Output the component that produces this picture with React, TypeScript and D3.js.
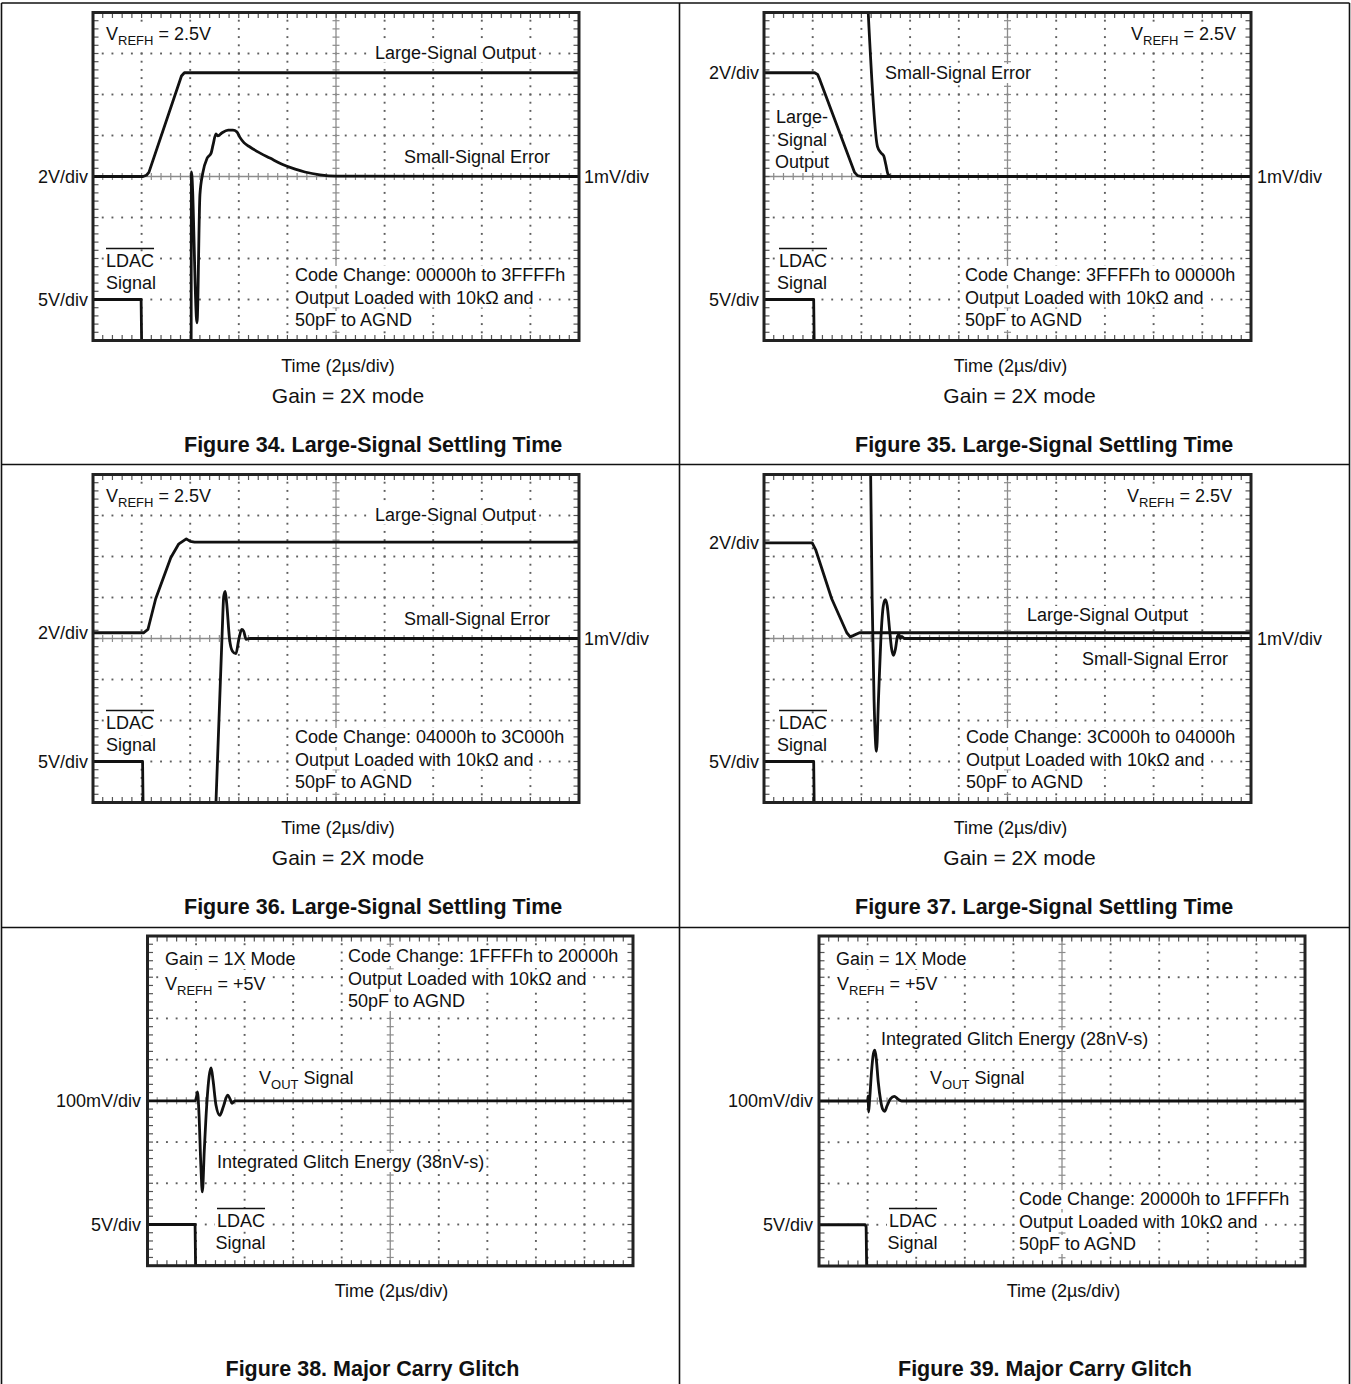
import React, { useEffect, useRef } from "react";
import * as d3 from "d3";

type Pt = [number, number];

// ---------- DATA ----------
// time in µs (2 µs/div, 10 div), amplitude in scope divisions (center = 0, ±4 div)
const TIME_DOMAIN: [number, number] = [0, 20];
const DIV_DOMAIN: [number, number] = [-4, 4];

const fig34Large: Pt[] = [[0, 0], [2.06, 0], [2.2, 0.03], [2.3, 0.1], [3.64, 2.45], [3.76, 2.53], [20, 2.53]];
const fig34Error: Pt[] = [[4.04, -4], [4.05, 0.11], [4.28, -3.57], [4.4, -0.45], [4.52, 0.09], [4.7, 0.45], [4.86, 0.57], [4.94, 0.77], [5.06, 1.04], [5.14, 0.99], [5.3, 1.06], [5.56, 1.13], [5.76, 1.13], [5.92, 1.09], [6.04, 0.96], [6.22, 0.82], [6.46, 0.72], [6.88, 0.57], [7.28, 0.45], [7.78, 0.3], [8.32, 0.18], [8.72, 0.11], [9.34, 0.04], [10, 0.01], [20, 0]];
const fig34Ldac: Pt[] = [[0, -3], [1.98, -3], [2.0, -4], [20, -4]];

const fig35Large: Pt[] = [[0, 2.53], [2.08, 2.53], [2.2, 2.49], [2.3, 2.35], [3.72, 0.1], [3.84, 0.02], [4.0, 0], [20, 0]];
const fig35Error: Pt[] = [[4.28, 4], [4.66, 0.73], [4.8, 0.58], [4.92, 0.5], [5.0, 0.3], [5.1, 0.05], [5.24, 0], [20, 0]];
const fig35Ldac: Pt[] = [[0, -3], [2.04, -3], [2.06, -4], [20, -4]];

const fig36Large: Pt[] = [[0, 0.14], [2.08, 0.14], [2.26, 0.22], [2.58, 0.97], [3.2, 1.97], [3.52, 2.3], [3.84, 2.43], [4.0, 2.37], [4.18, 2.35], [20, 2.35]];
const fig36Error: Pt[] = [[5.06, -4], [5.32, 0.22], [5.38, 1.03], [5.44, 1.15], [5.5, 0.87], [5.62, -0.02], [5.74, -0.31], [5.88, -0.37], [6.0, -0.02], [6.12, 0.22], [6.2, 0.18], [6.3, -0.02], [6.46, 0], [20, 0]];
const fig36Ldac: Pt[] = [[0, -3], [2.04, -3], [2.06, -4], [20, -4]];

const fig37Large: Pt[] = [[0, 2.33], [1.98, 2.33], [2.12, 2.17], [2.78, 0.97], [3.4, 0.14], [3.54, 0.04], [3.66, 0.07], [3.92, 0.14], [20, 0.14]];
const fig37Error: Pt[] = [[4.38, 4], [4.44, 1.0], [4.52, -1.5], [4.62, -2.75], [4.7, -1.5], [4.8, 0], [4.9, 0.8], [4.98, 0.95], [5.06, 0.8], [5.16, 0.2], [5.24, -0.25], [5.32, -0.41], [5.4, -0.25], [5.48, 0.05], [5.54, 0.1], [5.6, 0], [5.66, 0.05], [5.76, 0], [20, 0]];
const fig37Ldac: Pt[] = [[0, -3], [2.04, -3], [2.06, -4], [20, -4]];

const fig38Vout: Pt[] = [[0, 0], [1.96, 0], [2.02, 0.1], [2.06, 0.22], [2.12, -0.3], [2.2, -1.6], [2.26, -2.21], [2.34, -1.2], [2.44, -0.1], [2.54, 0.6], [2.62, 0.8], [2.7, 0.5], [2.82, -0.1], [2.98, -0.35], [3.12, -0.15], [3.3, 0.14], [3.42, 0.02], [3.48, -0.06], [3.6, 0], [20, 0]];
const fig38Ldac: Pt[] = [[0, -3], [1.96, -3], [1.98, -4], [20, -4]];

const fig39Vout: Pt[] = [[0, 0], [2.0, 0], [2.02, 0.12], [2.04, -0.27], [2.08, 0], [2.16, 0.7], [2.24, 1.15], [2.3, 1.23], [2.36, 1.0], [2.44, 0.45], [2.54, 0], [2.62, -0.2], [2.7, -0.25], [2.8, -0.12], [2.94, 0.05], [3.1, 0.11], [3.24, 0.05], [3.4, 0], [20, 0]];
const fig39Ldac: Pt[] = [[0, -3], [1.9, -3], [1.94, -3.05], [1.96, -4], [20, -4]];

// ---------- TEXT ----------
const settlingScaleLabels = ["2V/div", "1mV/div", "5V/div"];
const glitchScaleLabels = ["100mV/div", "5V/div"];
const timeLabel = "Time (2µs/div)";
const gain2x = "Gain = 2X mode";
const gain1x = "Gain = 1X Mode";
const loadNotes = ["Output Loaded with 10kΩ and", "50pF to AGND"];
const codeChanges = [
  "Code Change: 00000h to 3FFFFh",
  "Code Change: 3FFFFh to 00000h",
  "Code Change: 04000h to 3C000h",
  "Code Change: 3C000h to 04000h",
  "Code Change: 1FFFFh to 20000h",
  "Code Change: 20000h to 1FFFFh",
];
const titles = [
  "Figure 34. Large-Signal Settling Time",
  "Figure 35. Large-Signal Settling Time",
  "Figure 36. Large-Signal Settling Time",
  "Figure 37. Large-Signal Settling Time",
  "Figure 38. Major Carry Glitch",
  "Figure 39. Major Carry Glitch",
];

const FONT = "'Liberation Sans', Arial, Helvetica, sans-serif";
const W = 1351;
const H = 1384;

interface Seg { t: string; sub?: boolean }
interface Label {
  parts: string | Seg[];
  x: number; y: number;
  anchor?: "start" | "middle" | "end";
  size?: number; bold?: boolean; bg?: boolean; overline?: boolean;
}
interface Trace { data: Pt[]; smooth?: boolean }
interface Panel { box: [number, number, number, number]; traces: Trace[]; labels: Label[] }

const vref = (v: string): Seg[] => [{ t: "V" }, { t: "REFH", sub: true }, { t: " = " + v }];
const vout: Seg[] = [{ t: "V" }, { t: "OUT", sub: true }, { t: " Signal" }];

function buildPanels(): Panel[] {
  const ldacLabels = (x: number, y: number, x2: number): Label[] => [
    { parts: "LDAC", x, y, bg: true, overline: true },
    { parts: "Signal", x: x2, y: y + 22, bg: true },
  ];
  const notes = (x: number, y: number, i: number): Label[] => [
    { parts: codeChanges[i], x, y, bg: true },
    { parts: loadNotes[0], x, y: y + 22.5, bg: true },
    { parts: loadNotes[1], x, y: y + 45, bg: true },
  ];
  const p34: Panel = {
    box: [93, 12.5, 579, 340.5],
    traces: [{ data: fig34Large }, { data: fig34Error, smooth: true }, { data: fig34Ldac }],
    labels: [
      { parts: vref("2.5V"), x: 106, y: 40, bg: true },
      { parts: "Large-Signal Output", x: 375, y: 58.5, bg: true },
      { parts: "Small-Signal Error", x: 404, y: 162.5, bg: true },
      { parts: settlingScaleLabels[0], x: 88, y: 182.5, anchor: "end" },
      { parts: settlingScaleLabels[1], x: 584, y: 182.5 },
      ...ldacLabels(106, 267, 106),
      { parts: settlingScaleLabels[2], x: 88, y: 305.5, anchor: "end" },
      ...notes(295, 281, 0),
      { parts: timeLabel, x: 338, y: 372, anchor: "middle" },
      { parts: gain2x, x: 348, y: 403, anchor: "middle", size: 21 },
      { parts: titles[0], x: 184, y: 452, bold: true, size: 21.5 },
    ],
  };
  const p35: Panel = {
    box: [764, 12.5, 1251, 340.5],
    traces: [{ data: fig35Large }, { data: fig35Error, smooth: true }, { data: fig35Ldac }],
    labels: [
      { parts: vref("2.5V"), x: 1236, y: 40, anchor: "end", bg: true },
      { parts: settlingScaleLabels[0], x: 759, y: 79, anchor: "end" },
      { parts: "Small-Signal Error", x: 885, y: 79, bg: true },
      { parts: "Large-", x: 776, y: 123, bg: true },
      { parts: "Signal", x: 777, y: 145.5, bg: true },
      { parts: "Output", x: 775, y: 168, bg: true },
      { parts: settlingScaleLabels[1], x: 1257, y: 182.5 },
      ...ldacLabels(779, 267, 777),
      { parts: settlingScaleLabels[2], x: 759, y: 305.5, anchor: "end" },
      ...notes(965, 281, 1),
      { parts: timeLabel, x: 1010.5, y: 372, anchor: "middle" },
      { parts: gain2x, x: 1019.5, y: 403, anchor: "middle", size: 21 },
      { parts: titles[1], x: 855, y: 452, bold: true, size: 21.5 },
    ],
  };
  const dy = 462;
  const p36: Panel = {
    box: [93, 12.5 + dy, 579, 340.5 + dy],
    traces: [{ data: fig36Large }, { data: fig36Error, smooth: true }, { data: fig36Ldac }],
    labels: [
      { parts: vref("2.5V"), x: 106, y: 40 + dy, bg: true },
      { parts: "Large-Signal Output", x: 375, y: 58.5 + dy, bg: true },
      { parts: "Small-Signal Error", x: 404, y: 162.5 + dy, bg: true },
      { parts: settlingScaleLabels[0], x: 88, y: 638.5, anchor: "end" },
      { parts: settlingScaleLabels[1], x: 584, y: 644.5 },
      ...ldacLabels(106, 267 + dy, 106),
      { parts: settlingScaleLabels[2], x: 88, y: 305.5 + dy, anchor: "end" },
      ...notes(295, 281 + dy, 2),
      { parts: timeLabel, x: 338, y: 372 + dy, anchor: "middle" },
      { parts: gain2x, x: 348, y: 403 + dy, anchor: "middle", size: 21 },
      { parts: titles[2], x: 184, y: 452 + dy, bold: true, size: 21.5 },
    ],
  };
  const p37: Panel = {
    box: [764, 12.5 + dy, 1251, 340.5 + dy],
    traces: [{ data: fig37Large }, { data: fig37Error, smooth: true }, { data: fig37Ldac }],
    labels: [
      { parts: vref("2.5V"), x: 1232, y: 40 + dy, anchor: "end", bg: true },
      { parts: settlingScaleLabels[0], x: 759, y: 548.5, anchor: "end" },
      { parts: "Large-Signal Output", x: 1027, y: 621, bg: true },
      { parts: settlingScaleLabels[1], x: 1257, y: 644.5 },
      { parts: "Small-Signal Error", x: 1082, y: 665, bg: true },
      ...ldacLabels(779, 267 + dy, 777),
      { parts: settlingScaleLabels[2], x: 759, y: 305.5 + dy, anchor: "end" },
      ...notes(966, 281 + dy, 3),
      { parts: timeLabel, x: 1010.5, y: 372 + dy, anchor: "middle" },
      { parts: gain2x, x: 1019.5, y: 403 + dy, anchor: "middle", size: 21 },
      { parts: titles[3], x: 855, y: 452 + dy, bold: true, size: 21.5 },
    ],
  };
  const p38: Panel = {
    box: [147.5, 936, 633, 1265.7],
    traces: [{ data: fig38Vout, smooth: true }, { data: fig38Ldac }],
    labels: [
      { parts: gain1x, x: 165, y: 965, bg: true },
      { parts: vref("+5V"), x: 165, y: 990, bg: true },
      ...notes(348, 962, 4),
      { parts: vout, x: 259, y: 1084, bg: true },
      { parts: glitchScaleLabels[0], x: 141, y: 1107, anchor: "end" },
      { parts: "Integrated Glitch Energy (38nV-s)", x: 217, y: 1168, bg: true },
      { parts: glitchScaleLabels[1], x: 141, y: 1230.5, anchor: "end" },
      ...ldacLabels(217, 1227, 215.5),
      { parts: timeLabel, x: 391.5, y: 1297, anchor: "middle" },
      { parts: titles[4], x: 225.5, y: 1376, bold: true, size: 21.5 },
    ],
  };
  const p39: Panel = {
    box: [819, 936, 1305, 1266],
    traces: [{ data: fig39Vout, smooth: true }, { data: fig39Ldac }],
    labels: [
      { parts: gain1x, x: 836, y: 965, bg: true },
      { parts: vref("+5V"), x: 837, y: 990, bg: true },
      { parts: "Integrated Glitch Energy (28nV-s)", x: 881, y: 1045, bg: true },
      { parts: vout, x: 930, y: 1084, bg: true },
      { parts: glitchScaleLabels[0], x: 813, y: 1107, anchor: "end" },
      ...notes(1019, 1205, 5),
      { parts: glitchScaleLabels[1], x: 813, y: 1230.5, anchor: "end" },
      ...ldacLabels(889, 1227, 887.5),
      { parts: timeLabel, x: 1063.5, y: 1297, anchor: "middle" },
      { parts: titles[5], x: 898, y: 1376, bold: true, size: 21.5 },
    ],
  };
  return [p34, p35, p36, p37, p38, p39];
}

function addLabel(txL: any, bgL: any, L: Label) {
  const size = L.size ?? 18;
  const t = txL.append("text")
    .attr("x", L.x).attr("y", L.y)
    .attr("text-anchor", L.anchor ?? "start")
    .attr("font-family", FONT)
    .attr("font-size", size)
    .attr("font-weight", L.bold ? "bold" : "normal")
    .attr("fill", "#111")
    .style("white-space", "pre");
  const parts: Seg[] = typeof L.parts === "string" ? [{ t: L.parts }] : L.parts;
  let shifted = false;
  parts.forEach((p) => {
    const s = t.append("tspan").text(p.t);
    if (p.sub) { s.attr("font-size", 13).attr("dy", 5); shifted = true; }
    else if (shifted) { s.attr("dy", -5); shifted = false; }
  });
  const bb = (t.node() as SVGTextElement).getBBox();
  if (L.bg) {
    bgL.append("rect").attr("x", bb.x - 2).attr("y", bb.y + 1)
      .attr("width", bb.width + 4).attr("height", bb.height - 1).attr("fill", "#fff");
  }
  if (L.overline) {
    txL.append("line").attr("x1", bb.x).attr("x2", bb.x + bb.width)
      .attr("y1", L.y - 18.5).attr("y2", L.y - 18.5)
      .attr("stroke", "#111").attr("stroke-width", 1.6);
  }
}

function drawPanel(root: any, p: Panel, idx: number) {
  const [x0, y0, x1, y1] = p.box;
  const x = d3.scaleLinear().domain(TIME_DOMAIN).range([x0, x1]);
  const y = d3.scaleLinear().domain(DIV_DOMAIN).range([y1, y0]);
  const g = root.append("g");
  const grid = g.append("g");
  const bgL = g.append("g");
  const trL = g.append("g");
  const txL = g.append("g");
  const frame = g.append("g");

  const xMajor = d3.range(2, 19, 2).filter((v) => v !== 10);
  const yMajor = d3.range(-3, 4, 1).filter((v) => v !== 0);
  const xMinor = d3.range(0.4, 19.9, 0.4);
  const yMinor = d3.range(-3.8, 3.9, 0.2);
  const dot = 1.9;
  // dotted division lines
  xMajor.forEach((v) => {
    yMinor.forEach((m) => {
      grid.append("rect").attr("x", x(v) - dot / 2).attr("y", y(m) - dot / 2)
        .attr("width", dot).attr("height", dot).attr("fill", "#5e5e5e");
    });
  });
  yMajor.forEach((v) => {
    xMinor.forEach((m) => {
      grid.append("rect").attr("x", x(m) - dot / 2).attr("y", y(v) - dot / 2)
        .attr("width", dot).attr("height", dot).attr("fill", "#5e5e5e");
    });
  });
  // center axes
  const axisColor = "#8c8c8c";
  grid.append("line").attr("x1", x0).attr("x2", x1).attr("y1", y(0)).attr("y2", y(0))
    .attr("stroke", axisColor).attr("stroke-width", 1.3);
  grid.append("line").attr("x1", x(10)).attr("x2", x(10)).attr("y1", y0).attr("y2", y1)
    .attr("stroke", axisColor).attr("stroke-width", 1.3);
  xMinor.forEach((m) => {
    grid.append("line").attr("x1", x(m)).attr("x2", x(m)).attr("y1", y(0) - 3.5).attr("y2", y(0) + 3.5)
      .attr("stroke", axisColor).attr("stroke-width", 1.2);
  });
  yMinor.forEach((m) => {
    grid.append("line").attr("x1", x(10) - 3.5).attr("x2", x(10) + 3.5).attr("y1", y(m)).attr("y2", y(m))
      .attr("stroke", axisColor).attr("stroke-width", 1.2);
  });
  // border ticks
  const tickColor = "#555";
  xMinor.forEach((m) => {
    grid.append("line").attr("x1", x(m)).attr("x2", x(m)).attr("y1", y0).attr("y2", y0 + 5.5)
      .attr("stroke", tickColor).attr("stroke-width", 1.2);
    grid.append("line").attr("x1", x(m)).attr("x2", x(m)).attr("y1", y1 - 5.5).attr("y2", y1)
      .attr("stroke", tickColor).attr("stroke-width", 1.2);
  });
  yMinor.forEach((m) => {
    grid.append("line").attr("x1", x0).attr("x2", x0 + 5.5).attr("y1", y(m)).attr("y2", y(m))
      .attr("stroke", tickColor).attr("stroke-width", 1.2);
    grid.append("line").attr("x1", x1 - 5.5).attr("x2", x1).attr("y1", y(m)).attr("y2", y(m))
      .attr("stroke", tickColor).attr("stroke-width", 1.2);
  });

  // labels (measure -> background rects)
  p.labels.forEach((L) => addLabel(txL, bgL, L));

  // traces
  const clipId = `clip-${idx}`;
  g.append("clipPath").attr("id", clipId).append("rect")
    .attr("x", x0).attr("y", y0).attr("width", x1 - x0).attr("height", y1 - y0);
  p.traces.forEach((tr) => {
    const line = d3.line<Pt>().x((d) => x(d[0])).y((d) => y(d[1]))
      .curve(tr.smooth ? d3.curveMonotoneX : d3.curveLinear);
    trL.append("path").attr("d", line(tr.data)).attr("fill", "none")
      .attr("stroke", "#111").attr("stroke-width", 2.8)
      .attr("stroke-linejoin", "round").attr("stroke-linecap", "round")
      .attr("clip-path", `url(#${clipId})`);
  });

  frame.append("rect").attr("x", x0).attr("y", y0).attr("width", x1 - x0).attr("height", y1 - y0)
    .attr("fill", "none").attr("stroke", "#222").attr("stroke-width", 3);
}

export default function App() {
  const ref = useRef<SVGSVGElement>(null);
  useEffect(() => {
    document.body.style.margin = "0";
    const svg = d3.select(ref.current);
    svg.selectAll("*").remove();
    svg.append("rect").attr("width", W).attr("height", H).attr("fill", "#fff");
    const frame = svg.append("g").attr("stroke", "#111").attr("stroke-width", 1.6);
    frame.append("line").attr("x1", 1.5).attr("x2", 1.5).attr("y1", 3).attr("y2", H);
    frame.append("line").attr("x1", 1349.5).attr("x2", 1349.5).attr("y1", 3).attr("y2", H);
    frame.append("line").attr("x1", 679.5).attr("x2", 679.5).attr("y1", 3).attr("y2", H);
    [3, 464.5, 927.5].forEach((yy) => {
      frame.append("line").attr("x1", 1.5).attr("x2", 1349.5).attr("y1", yy).attr("y2", yy);
    });
    buildPanels().forEach((p, i) => drawPanel(svg, p, i));
  }, []);
  return (
    <svg
      ref={ref}
      width={W}
      height={H}
      style={{ display: "block", position: "absolute", left: 0, top: 0, background: "#fff" }}
    />
  );
}
